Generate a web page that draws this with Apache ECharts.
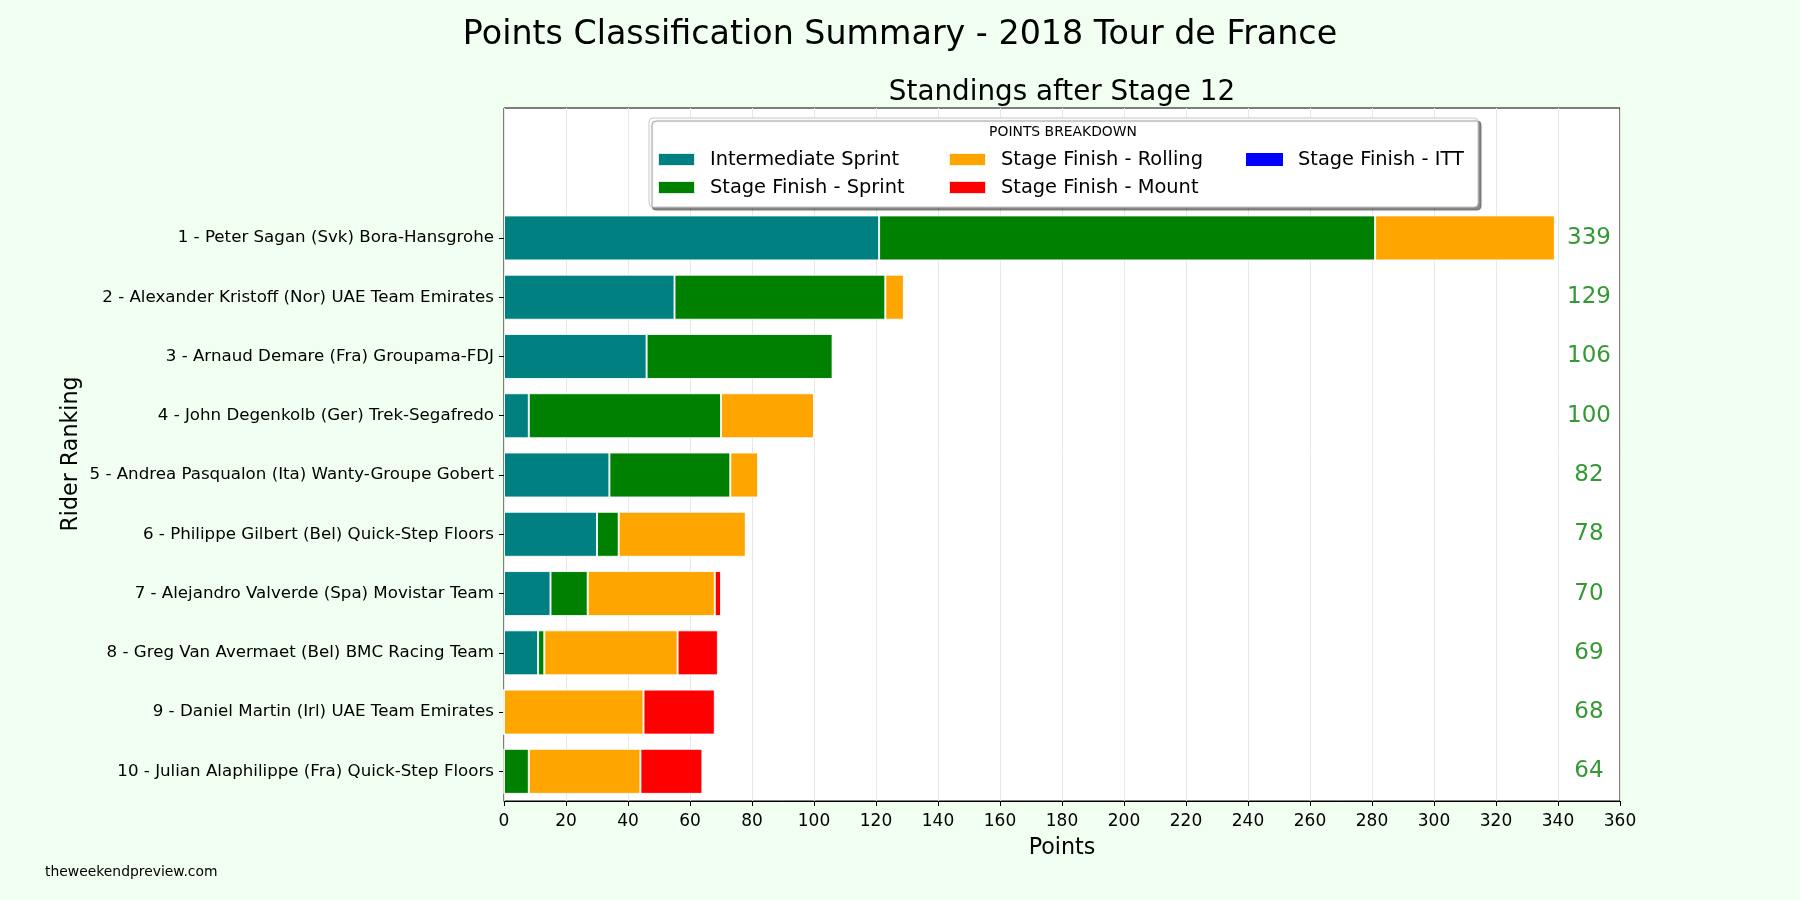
<!DOCTYPE html>
<html>
<head>
<meta charset="utf-8">
<script src="https://cdn.jsdelivr.net/npm/echarts@6/dist/echarts.min.js"></script>
<style>html,body{margin:0;padding:0;background:#F0FFF0;}#chart{width:1800px;height:900px;}</style>
</head>
<body>
<div id="chart"></div>
<script>
const riders = [
  '1 - Peter Sagan (Svk) Bora-Hansgrohe',
  '2 - Alexander Kristoff (Nor) UAE Team Emirates',
  '3 - Arnaud Demare (Fra) Groupama-FDJ',
  '4 - John Degenkolb (Ger) Trek-Segafredo',
  '5 - Andrea Pasqualon (Ita) Wanty-Groupe Gobert',
  '6 - Philippe Gilbert (Bel) Quick-Step Floors',
  '7 - Alejandro Valverde (Spa) Movistar Team',
  '8 - Greg Van Avermaet (Bel) BMC Racing Team',
  '9 - Daniel Martin (Irl) UAE Team Emirates',
  '10 - Julian Alaphilippe (Fra) Quick-Step Floors'
];
const intermediateSprint = [121, 55, 46, 8, 34, 30, 15, 11, 0, 0];
const stageFinishSprint  = [160, 68, 60, 62, 39, 7, 12, 2, 0, 8];
const stageFinishRolling = [58, 6, 0, 30, 9, 41, 41, 43, 45, 36];
const stageFinishMount   = [0, 0, 0, 0, 0, 0, 2, 13, 23, 20];
const stageFinishITT     = [0, 0, 0, 0, 0, 0, 0, 0, 0, 0];
const totals = [339, 129, 106, 100, 82, 78, 70, 69, 68, 64];
const seriesNames = ['Intermediate Sprint', 'Stage Finish - Sprint', 'Stage Finish - Rolling', 'Stage Finish - Mount', 'Stage Finish - ITT'];
const seriesColors = ['#008080', '#008000', '#FFA500', '#FF0000', '#0000FF'];
const seriesData = [intermediateSprint, stageFinishSprint, stageFinishRolling, stageFinishMount, stageFinishITT];
const xMin = 0, xMax = 360, xInterval = 20;
const totalsX = 350;

const FONT = 'DejaVu Sans';
const chart = echarts.init(document.getElementById('chart'), null, {renderer: 'canvas'});

const barSeries = seriesNames.map((name, i) => ({
  name: name,
  type: 'bar',
  stack: 'pts',
  xAxisIndex: 1,
  yAxisIndex: 1,
  barWidth: 45,
  data: seriesData[i],
  itemStyle: {color: seriesColors[i], borderColor: 'rgba(255,255,255,0.85)', borderWidth: i === 4 ? 0 : 1},
  emphasis: {disabled: true},
  z: 5
}));

const totalsSeries = {
  type: 'scatter',
  xAxisIndex: 1,
  yAxisIndex: 1,
  symbolSize: 0,
  itemStyle: {color: 'rgba(0,0,0,0)'},
  data: totals.map((t, i) => [totalsX, riders[i], t]),
  label: {
    show: true,
    position: 'inside',
    formatter: p => String(p.value[2]),
    color: '#008000',
    textBorderWidth: 0,
    textBorderColor: 'transparent',
    fontFamily: FONT,
    fontSize: 23
  },
  emphasis: {disabled: true},
  z: 6,
  silent: true
};

const legendCommon = {
  orient: 'vertical',
  icon: 'rect',
  itemWidth: 37,
  itemHeight: 13,
  itemGap: 6,
  padding: 0,
  top: 148.5,
  selectedMode: false,
  z: 120,
  textStyle: {fontFamily: FONT, fontSize: 19.4, color: '#000', lineHeight: 22, padding: [0, 0, 0, 10]}
};

const option = {
  backgroundColor: '#F0FFF0',
  animation: false,
  title: [
    {text: 'Points Classification Summary - 2018 Tour de France', left: 900, top: 18.5, textAlign: 'center', padding: 0,
     textStyle: {fontFamily: FONT, fontSize: 33.3, fontWeight: 'normal', color: '#000'}},
    {text: 'Standings after Stage 12', left: 1062, top: 79, textAlign: 'center', padding: 0,
     textStyle: {fontFamily: FONT, fontSize: 27.8, fontWeight: 'normal', color: '#000'}}
  ],
  grid: [
    {left: 504, top: 108, width: 1116, height: 693, show: true, backgroundColor: '#fff', borderColor: '#000', borderWidth: 1, containLabel: false},
    {left: 504, top: 208.3, width: 1116, height: 592.7, containLabel: false}
  ],
  xAxis: [
    {type: 'value', gridIndex: 0, min: xMin, max: xMax, interval: xInterval,
     axisLine: {show: true, lineStyle: {color: '#000', width: 1}},
     axisTick: {show: true, inside: false, length: 5, lineStyle: {color: '#000'}},
     axisLabel: {fontFamily: FONT, fontSize: 17, color: '#000', margin: 12},
     splitLine: {show: true, lineStyle: {color: '#e8e8e8', width: 1}}},
    {type: 'value', gridIndex: 1, min: xMin, max: xMax, interval: xInterval, show: false}
  ],
  yAxis: [
    {type: 'value', gridIndex: 0, show: false, min: 0, max: 1, splitLine: {show: false}},
    {type: 'category', gridIndex: 1, data: riders, inverse: true,
     axisLine: {show: false},
     axisTick: {show: true, alignWithLabel: true, inside: false, length: 5, lineStyle: {color: '#000'}},
     axisLabel: {fontFamily: FONT, fontSize: 16.67, color: '#000', margin: 10},
     splitLine: {show: false}}
  ],
  legend: [
    Object.assign({}, legendCommon, {left: 657, data: ['Intermediate Sprint', 'Stage Finish - Sprint']}),
    Object.assign({}, legendCommon, {left: 948, data: ['Stage Finish - Rolling', 'Stage Finish - Mount']}),
    Object.assign({}, legendCommon, {left: 1246, data: ['Stage Finish - ITT']})
  ],
  graphic: [
    {type: 'rect', z: 100, shape: {x: 649, y: 118, width: 829, height: 89, r: 4},
     style: {fill: '#fff', stroke: '#c8c8c8', lineWidth: 1, shadowColor: 'rgba(0,0,0,0.45)', shadowOffsetX: 3, shadowOffsetY: 3, shadowBlur: 1}},
    {type: 'text', z: 101, x: 1063, y: 132,
     style: {text: 'POINTS BREAKDOWN', fontFamily: FONT, fontSize: 13.9, fill: '#000', textAlign: 'center', textVerticalAlign: 'middle'}},
    {type: 'text', z: 10, x: 1062, y: 848.5,
     style: {text: 'Points', fontFamily: FONT, fontSize: 22.2, fill: '#000', textAlign: 'center', textVerticalAlign: 'middle'}},
    {type: 'text', z: 10, x: 71, y: 454, rotation: Math.PI / 2,
     style: {text: 'Rider Ranking', fontFamily: FONT, fontSize: 22.2, fill: '#000', textAlign: 'center', textVerticalAlign: 'middle'}},
    {type: 'text', z: 10, x: 45, y: 872,
     style: {text: 'theweekendpreview.com', fontFamily: FONT, fontSize: 13.9, fill: '#000', textAlign: 'left', textVerticalAlign: 'middle'}}
  ],
  series: barSeries.concat([totalsSeries])
};
chart.setOption(option);
</script>
</body>
</html>
